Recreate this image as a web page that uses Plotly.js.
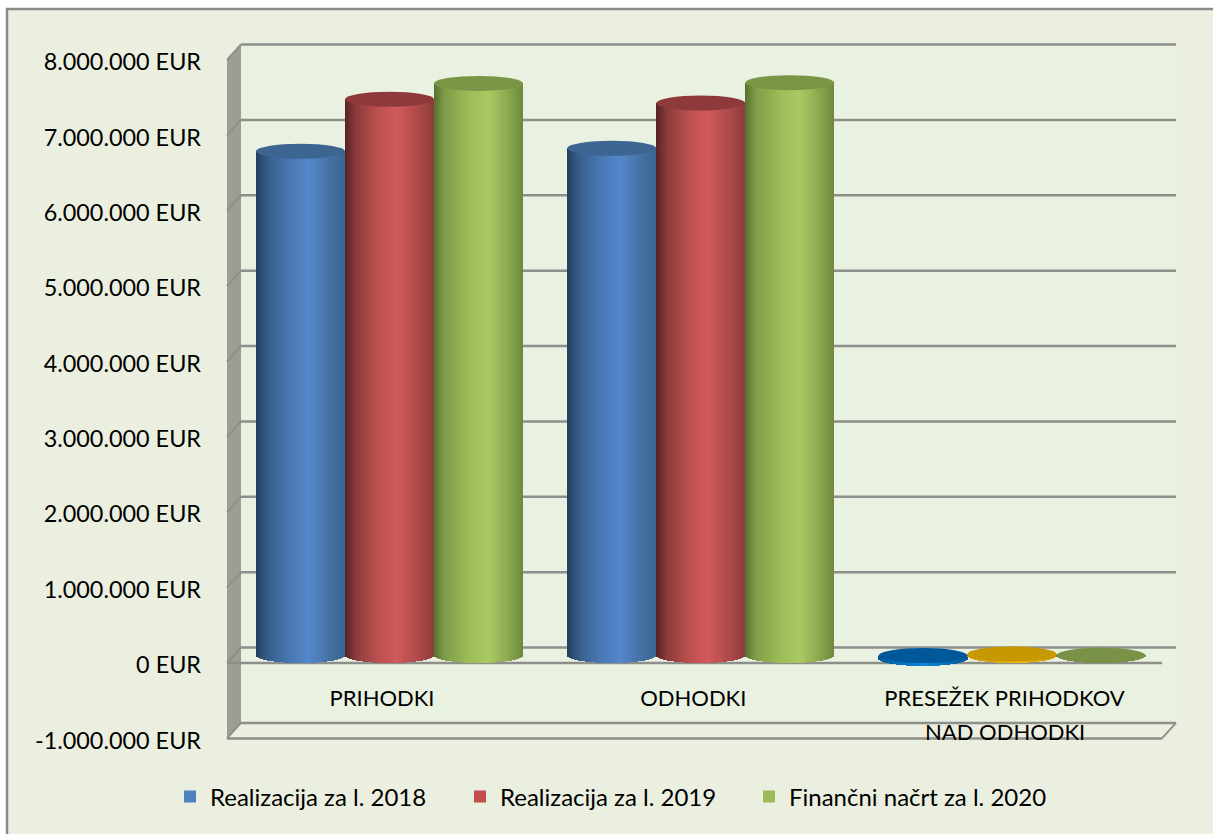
<!DOCTYPE html>
<html><head><meta charset="utf-8">
<script src="https://cdn.plot.ly/plotly-3.0.1.min.js"></script>
<style>html,body{margin:0;padding:0;background:#fff;overflow:hidden}</style>
</head><body><div id="chart" style="width:1213px;height:834px"></div>
<script>
const categories = ["PRIHODKI", "ODHODKI", "PRESEŽEK PRIHODKOV"];
const categoryLine2 = "NAD ODHODKI";
const seriesNames = ["Realizacija za l. 2018", "Realizacija za l. 2019", "Finančni načrt za l. 2020"];
const values2018 = [6690000, 6730000, -40000];
const values2019 = [7380000, 7330000, 20000];
const values2020 = [7590000, 7600000, 3000];
const tickVals = [-1000000, 0, 1000000, 2000000, 3000000, 4000000, 5000000, 6000000, 7000000, 8000000];
const tickText = ["-1.000.000 EUR", "0 EUR", "1.000.000 EUR", "2.000.000 EUR", "3.000.000 EUR", "4.000.000 EUR", "5.000.000 EUR", "6.000.000 EUR", "7.000.000 EUR", "8.000.000 EUR"];
const legendColors = ["#4f81bd", "#c0504d", "#9bbb59"];
const sideBlue = [[0, "#23405f"], [.15, "#38618f"], [.4, "#4a7ab5"], [.6, "#5387cc"], [.85, "#43709f"], [1, "#3a6494"]];
const sideRed = [[0, "#552323"], [.12, "#8a3a3a"], [.35, "#b94f4f"], [.58, "#d25a5a"], [.85, "#a94848"], [1, "#8c3b3a"]];
const sideGreen = [[0, "#56702c"], [.12, "#7f9d48"], [.4, "#9dbd58"], [.62, "#aac963"], [.85, "#88a64d"], [1, "#6c883a"]];
const sideSurplus = [[[0, "#005a9c"], [.5, "#0c86d6"], [1, "#005a9c"]], [[0, "#c99700"], [.6, "#f5bb10"], [1, "#c99700"]], [[0, "#6d8540"], [1, "#7a9148"]]];
const topColors = [["#3d6592", "#3d6592", "#00589a"], ["#8f3a3a", "#8f3a3a", "#c79800"], ["#7a9545", "#7a9545", "#7a9148"]];

const allValues = [values2018, values2019, values2020];
const sideStops = [sideBlue, sideRed, sideGreen];

// geometry of the frame in pixels
const plotL = 220, plotR = 1180, plotT = 36, plotB = 745;
const cat0Px = 389.5, catStep = 311.25, cylPx = 89;
const zeroPx = 663, pxPerUnit = 75.375 / 1e6;
const depthX = 14, depthY = 15.5;
const X = px => (px - cat0Px) / catStep;
const dX = px => px / catStep;
const dY = px => px / pxPerUnit;
const Y = px => (zeroPx - px) / pxPerUnit;
const frontL = 227, frontR = 1162;
const halfDepth = dY(7.5);

function hexRgb(h) { return [1, 3, 5].map(i => parseInt(h.substr(i, 2), 16)); }
function ramp(stops, t) {
  for (let i = 1; i < stops.length; i++) {
    if (t <= stops[i][0]) {
      const a = stops[i - 1], b = stops[i], f = (t - a[0]) / (b[0] - a[0]);
      const ca = hexRgb(a[1]), cb = hexRgb(b[1]);
      return "rgb(" + ca.map((c, k) => Math.round(c + (cb[k] - c) * f)).join(",") + ")";
    }
  }
  return stops[stops.length - 1][1];
}

const traces = [];
const ellipses = [];
const strips = cylPx;
allValues.forEach((vals, s) => {
  const xs = [], ys = [], bases = [], cols = [], widths = [];
  vals.forEach((v, c) => {
    const left = c + dX((s - 1.5) * cylPx);
    const lo = Math.min(0, v) + halfDepth, hi = Math.max(0, v) + halfDepth;
    const stops = c === 2 ? sideSurplus[s] : sideStops[s];
    for (let j = 0; j < strips; j++) {
      const t = (j + .5) / strips, u = 2 * t - 1;
      const b = lo - halfDepth * Math.sqrt(1 - u * u);
      xs.push(left + dX(cylPx) * t);
      bases.push(b);
      ys.push(hi - b);
      cols.push(ramp(stops, t));
      widths.push(dX(cylPx / strips) * 1.02);
    }
    ellipses.push({
      type: "circle", xref: "x", yref: "y", layer: "above",
      x0: left, x1: left + dX(cylPx),
      y0: hi - halfDepth, y1: hi + halfDepth,
      fillcolor: topColors[s][c], line: { width: 0 }
    });
  });
  traces.push({
    type: "bar", x: xs, y: ys, base: bases, width: widths,
    marker: { color: cols, line: { width: 0 } },
    showlegend: false, hoverinfo: "skip"
  });
});
const legendIds = ["legend", "legend2", "legend3"];
seriesNames.forEach((n, s) => traces.push({
  type: "bar", x: [null], y: [null], name: n, legend: legendIds[s],
  marker: { color: legendColors[s] }, showlegend: true, hoverinfo: "skip"
}));

const gridColor = "#8e8f8b";
const hline = (x0, x1, y, w) => ({ type: "line", xref: "x", yref: "y", layer: "below",
  x0: X(x0), x1: X(x1), y0: y, y1: y, line: { color: gridColor, width: w || 2.5 } });
const backL = frontL + depthX, backR = 1176;
const fx = px => (px - plotL) / (plotR - plotL);
const fy = px => (plotB - px) / (plotB - plotT);
const wallShapes = [
  { type: "rect", xref: "paper", yref: "paper", layer: "below", x0: fx(7), x1: fx(1300), y0: fy(900), y1: fy(9),
    fillcolor: "#ebefdf", line: { color: "#8a8a8a", width: 2.5 } },
  { type: "rect", xref: "x", yref: "y", layer: "below",
    x0: X(backL), x1: X(backR), y0: tickVals[0] + dY(depthY), y1: tickVals[9] + dY(depthY),
    fillcolor: "#e9f1e1", line: { width: 0 } },
  { type: "path", xref: "x", yref: "y", layer: "below",
    path: `M ${X(frontL)},${tickVals[0]} L ${X(backL)},${tickVals[0] + dY(depthY)} L ${X(backL)},${tickVals[9] + dY(depthY)} L ${X(frontL)},${tickVals[9]} Z`,
    fillcolor: "#9b9e93", line: { width: 0 } }
];
const gridShapes = [];
tickVals.forEach(v => {
  gridShapes.push(hline(backL, backR, v + dY(depthY)));
  gridShapes.push({ type: "line", xref: "x", yref: "y", layer: "below",
    x0: X(frontL), x1: X(backL), y0: v, y1: v + dY(depthY), line: { color: gridColor, width: 2 } });
});
gridShapes.push(hline(frontL, frontR, 0));
gridShapes.push(hline(frontL, frontR, tickVals[0]));
gridShapes.push({ type: "line", xref: "x", yref: "y", layer: "below",
  x0: X(frontR), x1: X(backR), y0: tickVals[0], y1: tickVals[0] + dY(depthY), line: { color: gridColor, width: 2 } });

const font = "Lato, 'Open Sans', sans-serif";
const labelShift = dX(7.5);
const legendBase = px => ({
  orientation: "h", x: fx(px), y: fy(797), xanchor: "left", yanchor: "middle",
  font: { family: font, size: 24, color: "#000" }, bgcolor: "rgba(0,0,0,0)"
});
const layout = {
  width: 1213, height: 834, autosize: false,
  margin: { l: plotL, r: 1213 - plotR, t: plotT, b: 834 - plotB, pad: 0 },
  paper_bgcolor: "#ffffff", plot_bgcolor: "rgba(0,0,0,0)",
  barmode: "overlay", bargap: 0,
  font: { family: font, color: "#000000", size: 22 },
  xaxis: {
    type: "linear", range: [X(plotL), X(plotR)], fixedrange: true,
    tickmode: "array", tickvals: [0 - labelShift, 1 - labelShift, 2 - labelShift], ticktext: categories,
    showgrid: false, zeroline: false, showline: false, ticks: "",
    anchor: "free", position: (plotB - zeroPx) / (plotB - plotT),
    ticklabelstandoff: 20, tickfont: { family: font, size: 22, color: "#000" }
  },
  yaxis: {
    type: "linear", range: [Y(plotB), Y(plotT)], fixedrange: true,
    tickmode: "array", tickvals: tickVals, ticktext: tickText,
    showgrid: false, zeroline: false, showline: false, ticks: "",
    ticklabelstandoff: 18, ticklabelshift: 2, tickfont: { family: font, size: 23.4, color: "#000" }
  },
  annotations: [{
    xref: "x", yref: "y", x: 2 - labelShift, y: Y(731), text: categoryLine2, showarrow: false,
    xanchor: "center", yanchor: "middle", font: { family: font, size: 22, color: "#000" }
  }],
  legend: legendBase(170),
  legend2: legendBase(460),
  legend3: legendBase(749),
  shapes: wallShapes.concat(gridShapes, ellipses)
};
Plotly.newPlot("chart", traces, layout, { displayModeBar: false, staticPlot: true });
</script></body></html>
